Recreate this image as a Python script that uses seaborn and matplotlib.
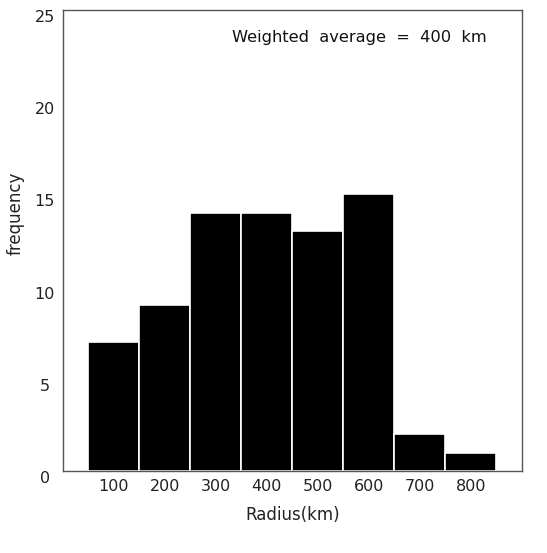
import numpy as np
import pandas as pd
import matplotlib
matplotlib.use("Agg")
import matplotlib.pyplot as plt
import matplotlib.transforms as mtransforms
import seaborn as sns

# bin centres (km) and counts
radius = [100, 200, 300, 400, 500, 600, 700, 800]
counts = [7, 9, 14, 14, 13, 15, 2, 1]
bin_edges = [50, 150, 250, 350, 450, 550, 650, 750, 850]
y_ticks = [0, 5, 10, 15, 20, 25]
note = "Weighted  average  =  400  km"

df = pd.DataFrame({"radius": radius, "count": counts})

sns.set_theme(style="white")
plt.rcParams["font.family"] = ["DejaVu Sans"]

fig = plt.figure(figsize=(5.47, 5.53), dpi=100)
ax = fig.add_axes([0.115, 0.148, 0.839, 0.834])

sns.histplot(data=df, x="radius", weights="count", bins=bin_edges,
             color="black", edgecolor="white", linewidth=1.2, alpha=1,
             ax=ax)

ax.set_xlim(0, 900)
ax.set_ylim(0, 25)
ax.set_xticks(radius)
ax.set_yticks(y_ticks)
ax.tick_params(axis="both", length=0, labelsize=11.5, colors="#222222")
ax.tick_params(axis="x", pad=6)
ax.tick_params(axis="y", pad=13)
for lab in ax.get_yticklabels():
    lab.set_horizontalalignment("center")
    lab.set_transform(lab.get_transform() +
                      mtransforms.ScaledTranslation(0, -0.06, fig.dpi_scale_trans))

for s in ax.spines.values():
    s.set_color("#555555")
    s.set_linewidth(1.0)

ax.set_xlabel("Radius(km)", fontsize=12, color="#222222", labelpad=8)
ax.set_ylabel("frequency", fontsize=12, color="#222222")
ax.yaxis.set_label_coords(-0.083, 0.56)

ax.text(832, 23.5, note, ha="right", va="center", fontsize=11.7, color="#111111")

fig.savefig("out.png", dpi=100)
